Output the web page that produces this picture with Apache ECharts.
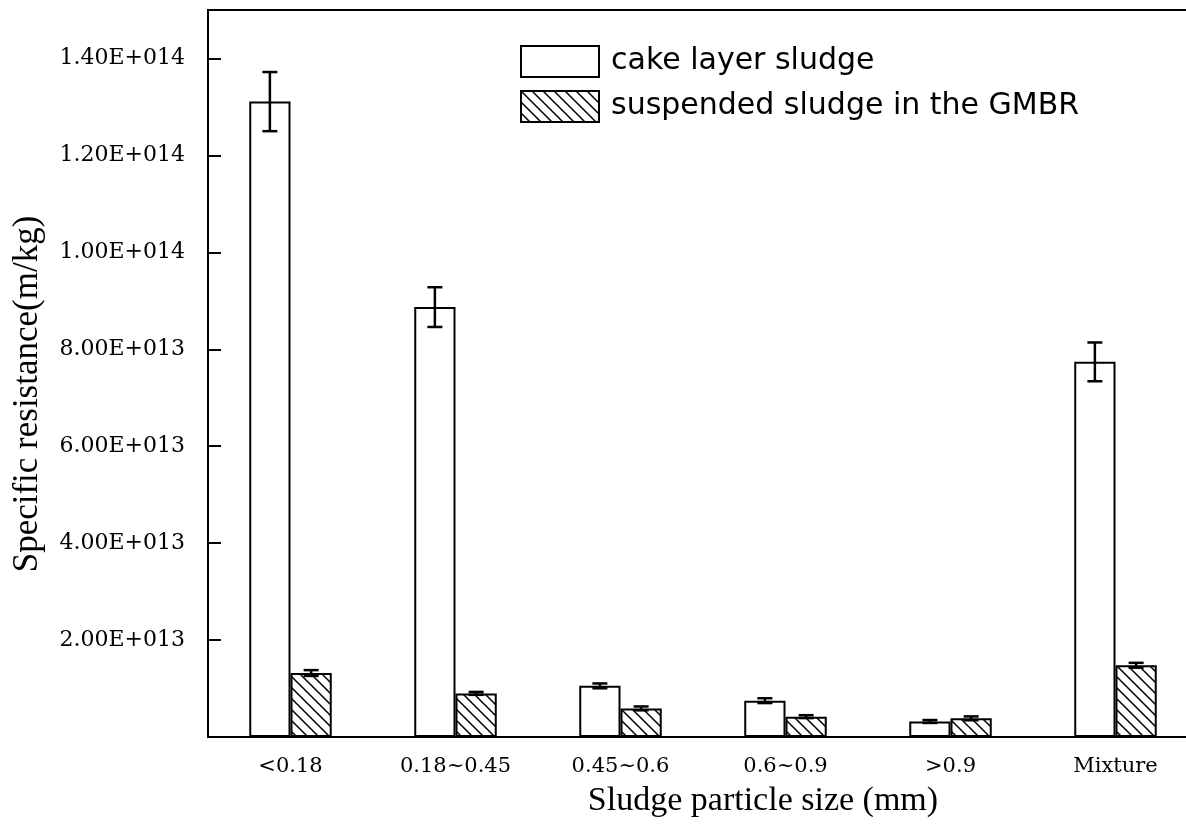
<!DOCTYPE html>
<html>
<head>
<meta charset="utf-8">
<script src="https://cdn.jsdelivr.net/npm/echarts@6/dist/echarts.min.js"></script>
<style>
html,body{margin:0;padding:0;background:#fff;overflow:hidden;width:1186px;height:826px;}
#chart{width:1210px;height:826px;}
</style>
</head>
<body>
<div id="chart"></div>
<script>
// ---- data ----
var categories = ['<0.18', '0.18~0.45', '0.45~0.6', '0.6~0.9', '>0.9', 'Mixture'];
var seriesNames = ['cake layer sludge', 'suspended sludge in the GMBR'];
var cakeValues = [1.311e14, 8.87e13, 1.055e13, 7.5e12, 3.2e12, 7.74e13];
var cakeErrors = [6.1e12, 4.1e12, 5e11, 5e11, 3e11, 4.0e12];
var suspValues = [1.32e13, 9.0e12, 5.9e12, 4.2e12, 3.85e12, 1.48e13];
var suspErrors = [6e11, 3e11, 4e11, 3e11, 4e11, 5e11];
var yMin = 0, yMax = 1.5e14, yInterval = 2e13;
var xTitle = 'Sludge particle size (mm)';
var yTitle = 'Specific resistance(m/kg)';

function sciLabel(v) {
  if (v <= 0 || v > 1.45e14) return '';
  var e = Math.floor(Math.log10(v) + 1e-9);
  var m = v / Math.pow(10, e);
  return m.toFixed(2) + 'E+' + String(e).padStart(3, '0');
}

// hatch pattern "\\\\"
var tile = document.createElement('canvas');
var T = 11;
tile.width = T; tile.height = T;
var g = tile.getContext('2d');
g.fillStyle = '#fff'; g.fillRect(0, 0, T, T);
g.strokeStyle = '#000'; g.lineWidth = 1.5;
g.beginPath();
g.moveTo(-1, -1); g.lineTo(T + 1, T + 1);
g.moveTo(-T - 1, -1); g.lineTo(1, T + 1);
g.moveTo(-1, -T - 1); g.lineTo(T + 1, 1);
g.stroke();
var hatch = { image: tile, repeat: 'repeat' };

function errData(vals, errs) {
  return vals.map(function (v, i) { return [i, v, errs[i]]; });
}
function errRender(sign) {
  return function (params, api) {
    var i = api.value(0), v = api.value(1), e = api.value(2);
    var band = api.size([1, 0])[0];
    var c = api.coord([i, v]);
    var x = c[0] + sign * band * 0.125;
    var top = api.coord([i, v + e])[1];
    var bot = api.coord([i, v - e])[1];
    var hw = 7.5;
    var st = { stroke: '#000', lineWidth: 2.5 };
    return {
      type: 'group',
      children: [
        { type: 'line', shape: { x1: x, y1: top, x2: x, y2: bot }, style: st },
        { type: 'line', shape: { x1: x - hw, y1: top, x2: x + hw, y2: top }, style: st },
        { type: 'line', shape: { x1: x - hw, y1: bot, x2: x + hw, y2: bot }, style: st }
      ]
    };
  };
}

var chart = echarts.init(document.getElementById('chart'), null, { renderer: 'canvas' });
chart.setOption({
  animation: false,
  backgroundColor: '#fff',
  grid: {
    left: 208, top: 10, right: 12, bottom: 89,
    show: true, borderColor: '#000', borderWidth: 2, backgroundColor: 'transparent'
  },
  legend: {
    data: seriesNames,
    orient: 'vertical',
    left: 515, top: 40,
    itemWidth: 78, itemHeight: 31, itemGap: 12,
    icon: 'rect',
    textStyle: { fontFamily: 'DejaVu Sans', fontSize: 30, color: '#000', padding: [0, 0, 0, 7] }
  },
  xAxis: {
    type: 'category',
    data: categories,
    axisLine: { lineStyle: { color: '#000', width: 2 } },
    axisTick: { show: false },
    axisLabel: { color: '#000', fontFamily: 'DejaVu Serif', fontSize: 21, margin: 19 },
    splitLine: { show: false }
  },
  yAxis: {
    type: 'value',
    min: yMin, max: yMax, interval: yInterval,
    axisLine: { show: true, lineStyle: { color: '#000', width: 2 } },
    axisTick: { show: true, inside: true, length: 13, lineStyle: { color: '#000', width: 2 } },
    axisLabel: { color: '#000', fontFamily: 'DejaVu Serif', fontSize: 22, margin: 23, formatter: sciLabel },
    splitLine: { show: false }
  },
  graphic: [
    {
      type: 'text', x: 28, y: 394, rotation: Math.PI / 2,
      style: { text: yTitle, fontFamily: 'Liberation Serif', fontSize: 35, fill: '#000',
               align: 'center', verticalAlign: 'middle' }
    },
    {
      type: 'text', x: 763, y: 801,
      style: { text: xTitle, fontFamily: 'Liberation Serif', fontSize: 34, fill: '#000',
               align: 'center', verticalAlign: 'middle' }
    }
  ],
  series: [
    {
      name: seriesNames[0], type: 'bar', data: cakeValues,
      barGap: '0%', barCategoryGap: '50%',
      itemStyle: { color: '#fff', borderColor: '#000', borderWidth: 2 }
    },
    {
      name: seriesNames[1], type: 'bar', data: suspValues,
      barGap: '0%', barCategoryGap: '50%',
      itemStyle: { color: hatch, borderColor: '#000', borderWidth: 2 }
    },
    {
      name: 'err1', type: 'custom', data: errData(cakeValues, cakeErrors),
      renderItem: errRender(-1), encode: { x: 0, y: 1 }, z: 5, silent: true
    },
    {
      name: 'err2', type: 'custom', data: errData(suspValues, suspErrors),
      renderItem: errRender(1), encode: { x: 0, y: 1 }, z: 5, silent: true
    }
  ]
});
</script>
</body>
</html>
